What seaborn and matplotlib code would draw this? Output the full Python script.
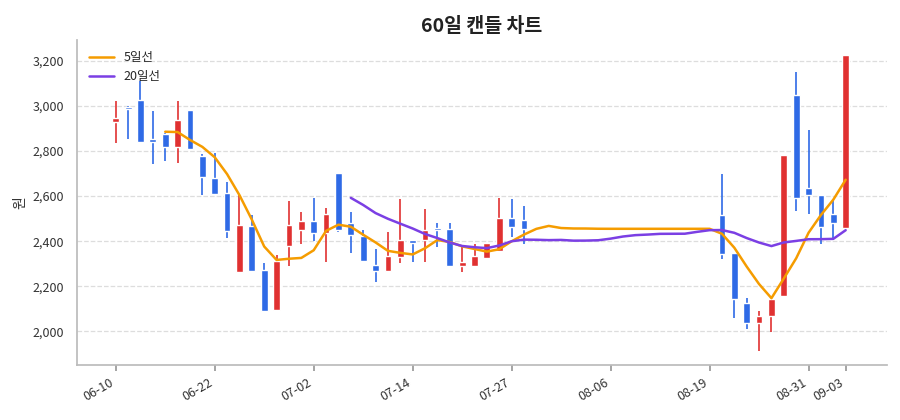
import numpy as np
import pandas as pd
import matplotlib
matplotlib.use("Agg")
import matplotlib.pyplot as plt
from matplotlib.ticker import FuncFormatter
import seaborn as sns

opens  = [2930,2995,3025,2855,2875,2818,2980,2780,2680,2613,2262,2469,2273,2096,2378,2449,2489,2437,2704,2482,
          2424,2293,2267,2330,2404,2404,2458,2453,2289,2289,2326,2356,2502,2495,2465,2460,2455,2455,2455,2455,
          2455,2455,2455,2455,2455,2455,2455,2455,2455,2516,2348,2124,2037,2067,2156,3049,2634,2604,2520,2459]
closes = [2945,2985,2840,2840,2818,2938,2810,2686,2610,2444,2471,2267,2090,2312,2471,2489,2437,2520,2449,2426,
          2311,2267,2333,2404,2391,2449,2449,2289,2307,2333,2391,2502,2465,2456,2460,2456,2455,2455,2455,2455,
          2455,2455,2455,2455,2455,2455,2455,2455,2455,2345,2145,2037,2067,2142,2782,2593,2603,2461,2482,3224]
highs  = [3020,3000,3110,2978,2880,3020,2982,2785,2790,2662,2609,2518,2302,2338,2578,2529,2593,2547,2704,2529,
          2449,2364,2441,2587,2404,2542,2482,2482,2375,2387,2391,2593,2587,2556,2462,2458,2455,2455,2455,2455,
          2455,2455,2455,2455,2455,2455,2455,2455,2455,2696,2348,2147,2090,2142,2782,3152,2893,2604,2582,3224]
lows   = [2835,2855,2840,2742,2757,2748,2805,2604,2605,2413,2258,2265,2088,2093,2289,2388,2400,2308,2440,2347,
          2311,2219,2267,2304,2308,2308,2373,2289,2264,2289,2326,2356,2418,2387,2460,2456,2455,2455,2455,2455,
          2455,2455,2455,2455,2455,2455,2455,2455,2455,2319,2060,2009,1911,1996,2156,2533,2520,2387,2404,2455]
tick_idx    = [0, 8, 16, 24, 32, 40, 48, 56, 59]
tick_labels = ["06-10","06-22","07-02","07-14","07-27","08-06","08-19","08-31","09-03"]

sns.set_theme(style="white")
plt.rcParams['font.family'] = ['Noto Sans CJK KR', 'DejaVu Sans']

df = pd.DataFrame({"open": opens, "close": closes, "high": highs, "low": lows})
df["idx"] = np.arange(len(df))
df["ma5"] = df["close"].rolling(5).mean()
df["ma20"] = df["close"].rolling(20).mean()

RED, BLUE = "#E03131", "#2F6AE6"
fig, ax = plt.subplots(figsize=(9, 4.2), dpi=100)
up = df["close"] >= df["open"]
colors = np.where(up, RED, BLUE)
ax.vlines(df["idx"], df["low"], df["high"], colors=colors, linewidth=1.2, zorder=2)
body_bottom = np.minimum(df["open"], df["close"])
body_h = np.maximum(np.abs(df["close"] - df["open"]), 3)
ax.bar(df["idx"], body_h, bottom=body_bottom, width=0.55, color=colors, zorder=3)

sns.lineplot(x=df["idx"], y=df["ma5"], ax=ax, color="#F59C00", linewidth=1.8, label="5일선", zorder=4)
sns.lineplot(x=df["idx"], y=df["ma20"], ax=ax, color="#7B3FE4", linewidth=1.8, label="20일선", zorder=4)

ax.set_xlim(-3.1, 62.3)
ax.set_ylim(1849, 3293)
ax.set_xticks(tick_idx)
ax.set_xticklabels(tick_labels, rotation=30, ha="right", fontsize=9, color="#333333")
ax.set_yticks(range(2000, 3201, 200))
ax.yaxis.set_major_formatter(FuncFormatter(lambda v, p: f"{int(v):,}"))
ax.tick_params(axis="y", labelsize=9, colors="#333333")
ax.tick_params(axis="x", length=4, color="#999999", bottom=True)
ax.set_xlabel("")
ax.set_ylabel("원", fontsize=10, color="#333333")
ax.grid(axis="y", linestyle="--", color="#DDDDDD", linewidth=0.9)
ax.set_axisbelow(True)
for s in ["top", "right"]:
    ax.spines[s].set_visible(False)
for s in ["left", "bottom"]:
    ax.spines[s].set_color("#BBBBBB")
ax.set_title("60일 캔들 차트", fontsize=14, fontweight="bold", color="#222222")
ax.legend(loc="upper left", frameon=False, fontsize=9)
fig.subplots_adjust(left=0.086, right=0.985, top=0.905, bottom=0.13)
fig.savefig("out.png")
